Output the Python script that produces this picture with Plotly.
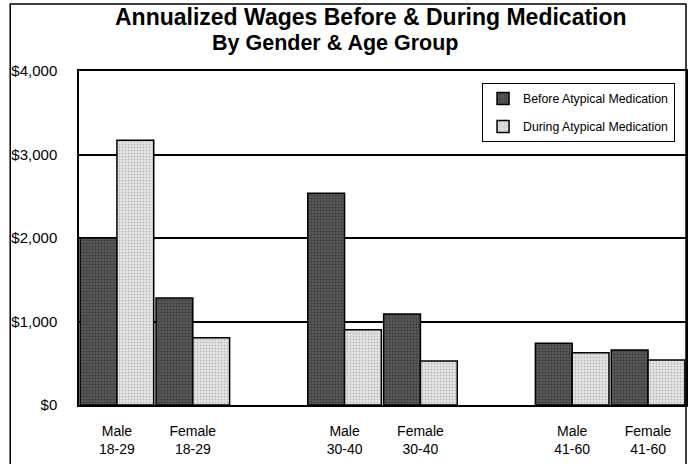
import plotly.graph_objects as go

categories = ["Male<br>18-29", "Female<br>18-29", "Male<br>30-40", "Female<br>30-40", "Male<br>41-60", "Female<br>41-60"]
positions = [0, 1, 3, 4, 6, 7]
before = [2000, 1280, 2535, 1090, 740, 660]
during = [3170, 805, 900, 527, 626, 540]
y_ticks = [0, 1000, 2000, 3000, 4000]
y_labels = ["$0", "$1,000", "$2,000", "$3,000", "$4,000"]

FONT = "Liberation Sans, Arial, sans-serif"

fig = go.Figure()
fig.add_trace(go.Bar(
    x=positions, y=before, name="Before Atypical Medication", legendgroup="a",
    marker=dict(color="#4a4a4a", line=dict(color="black", width=1.5),
                pattern=dict(shape=".", fgcolor="#1a1a1a", bgcolor="#5a5a5a", size=3, solidity=0.4)),
))
fig.add_trace(go.Bar(
    x=positions, y=during, name="During Atypical Medication", legendgroup="b",
    marker=dict(color="#d8d8d8", line=dict(color="black", width=1.5),
                pattern=dict(shape=".", fgcolor="#8a8a8a", bgcolor="#e6e6e6", size=3, solidity=0.3)),
))

L, R, T, B = 79, 688, 71, 405
W, H = 690, 464
pw, ph = R - L, B - T

def px(x):
    return (x - L) / pw

def py(y):
    return (B - y) / ph

fig.update_layout(
    width=W, height=H,
    margin=dict(l=L, r=W - R, t=T, b=H - B),
    paper_bgcolor="white", plot_bgcolor="white",
    barmode="group", bargap=0.03, bargroupgap=0,
    font=dict(family=FONT, size=12, color="black"),
    showlegend=True,
    legend=dict(
        x=px(677), y=py(83), xanchor="right", yanchor="top",
        bgcolor="white", bordercolor="black", borderwidth=1,
        font=dict(family=FONT, size=12.3, color="black"),
        traceorder="grouped", tracegroupgap=9, itemwidth=30,
    ),
    annotations=[
        dict(text="<b>Annualized Wages Before & During Medication</b>", x=px(372), y=py(17),
             xref="paper", yref="paper", showarrow=False, xanchor="center", yanchor="middle",
             font=dict(family=FONT, size=23, color="black")),
        dict(text="<b>By Gender & Age Group</b>", x=px(336), y=py(43),
             xref="paper", yref="paper", showarrow=False, xanchor="center", yanchor="middle",
             font=dict(family=FONT, size=21.5, color="black")),
    ],
    shapes=[
        dict(type="rect", xref="paper", yref="paper", x0=px(10), x1=px(688), y0=py(470), y1=py(4),
             line=dict(color="black", width=1.5), fillcolor="rgba(0,0,0,0)", layer="below"),
    ],
)
fig.update_xaxes(
    range=[-0.5, 7.5], tickvals=positions, ticktext=categories,
    showgrid=False, zeroline=False, showline=True, linecolor="black", linewidth=1.5, mirror=True,
    ticks="", ticklabelstandoff=12, tickfont=dict(family=FONT, size=14),
)
fig.update_yaxes(
    range=[0, 4000], tickvals=y_ticks, ticktext=y_labels,
    showgrid=True, gridcolor="black", gridwidth=1.5, zeroline=False,
    showline=True, linecolor="black", linewidth=1.5, mirror=True,
    ticks="", ticklabelstandoff=17, tickfont=dict(family=FONT, size=15),
)

fig.write_html("out.html", config={"displayModeBar": False},
               post_script="document.body.style.margin='0';")
